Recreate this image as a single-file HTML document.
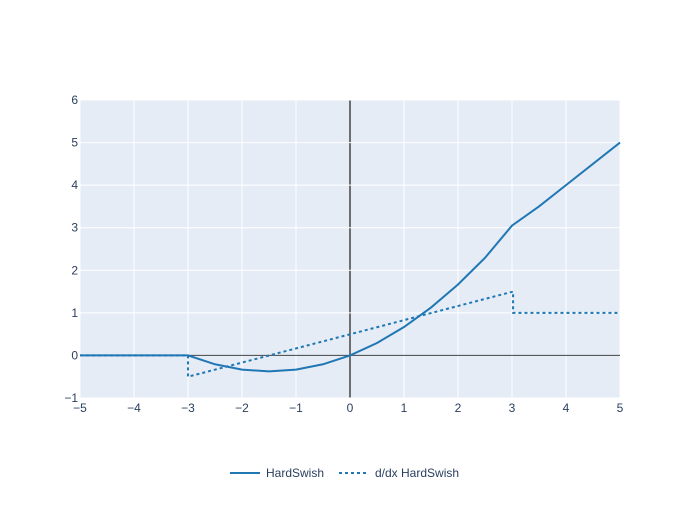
<!DOCTYPE html>
<html><head><style>
body{margin:0;background:#fff;}
svg text{font-family:"Liberation Sans",sans-serif;font-size:12px;fill:#2a3f5f;}
</style></head><body>
<svg id="c" width="700" height="500">
<rect x="80" y="100" width="540" height="298" fill="#e5ecf6"/>
<g id="grid"></g><g id="series"></g><g id="ticks"></g>
<g>
<line x1="230" y1="473" x2="260" y2="473" stroke="#1f77b4" stroke-width="2"/>
<text x="266" y="477">HardSwish</text>
<line x1="339" y1="473" x2="369" y2="473" stroke="#1f77b4" stroke-width="2" stroke-dasharray="3,3"/>
<text x="375" y="477">d/dx HardSwish</text>
</g>
</svg>
<script>
const hsX=[-5,-4,-3,-2.5,-2,-1.5,-1,-0.5,0,0.5,1,1.5,2,2.5,3,3.5,4,5];
const hsY=[0,0,0,-0.208,-0.333,-0.375,-0.333,-0.208,0,0.292,0.667,1.125,1.667,2.292,3.05,3.5,4,5];
const dX=[-5,-3,-3,3.02,3.02,5];
const dY=[0,0,-0.5,1.5,1,1];
const xTicks=[-5,-4,-3,-2,-1,0,1,2,3,4,5];
const yTicks=[-1,0,1,2,3,4,5,6];
const sx=v=>80+(v+5)*54, sy=v=>398-(v+1)*298/7;
const NS="http://www.w3.org/2000/svg";
const mk=(p,t,a)=>{const e=document.createElementNS(NS,t);for(const k in a)e.setAttribute(k,a[k]);document.getElementById(p).appendChild(e);return e;};
xTicks.forEach(t=>{
 const l=mk('grid','line',{x1:sx(t),x2:sx(t),y1:100,y2:398,stroke:t===0?'#444':'#fff','stroke-width':t===0?1.5:1});
 
 
 const tx=mk('ticks','text',{x:sx(t),y:412,'text-anchor':'middle'});tx.textContent=String(t).replace('-','\u2212');
 
 
});
yTicks.forEach(t=>{
 const l=mk('grid','line',{x1:80,x2:620,y1:sy(t),y2:sy(t),stroke:t===0?'#444':'#fff','stroke-width':t===0?1:1});
 
 
 const tx=mk('ticks','text',{x:78,y:sy(t)+4,'text-anchor':'end'});tx.textContent=String(t).replace('-','\u2212');
 
 
});
const p1=mk('series','polyline',{points:hsX.map((x,i)=>sx(x)+','+sy(hsY[i])).join(' '),fill:'none',stroke:'#1f77b4','stroke-width':2});


const p2=mk('series','polyline',{points:dX.map((x,i)=>sx(x)+','+sy(dY[i])).join(' '),fill:'none',stroke:'#1f77b4','stroke-width':2,'stroke-dasharray':'3,3'});


</script>
</body></html>
